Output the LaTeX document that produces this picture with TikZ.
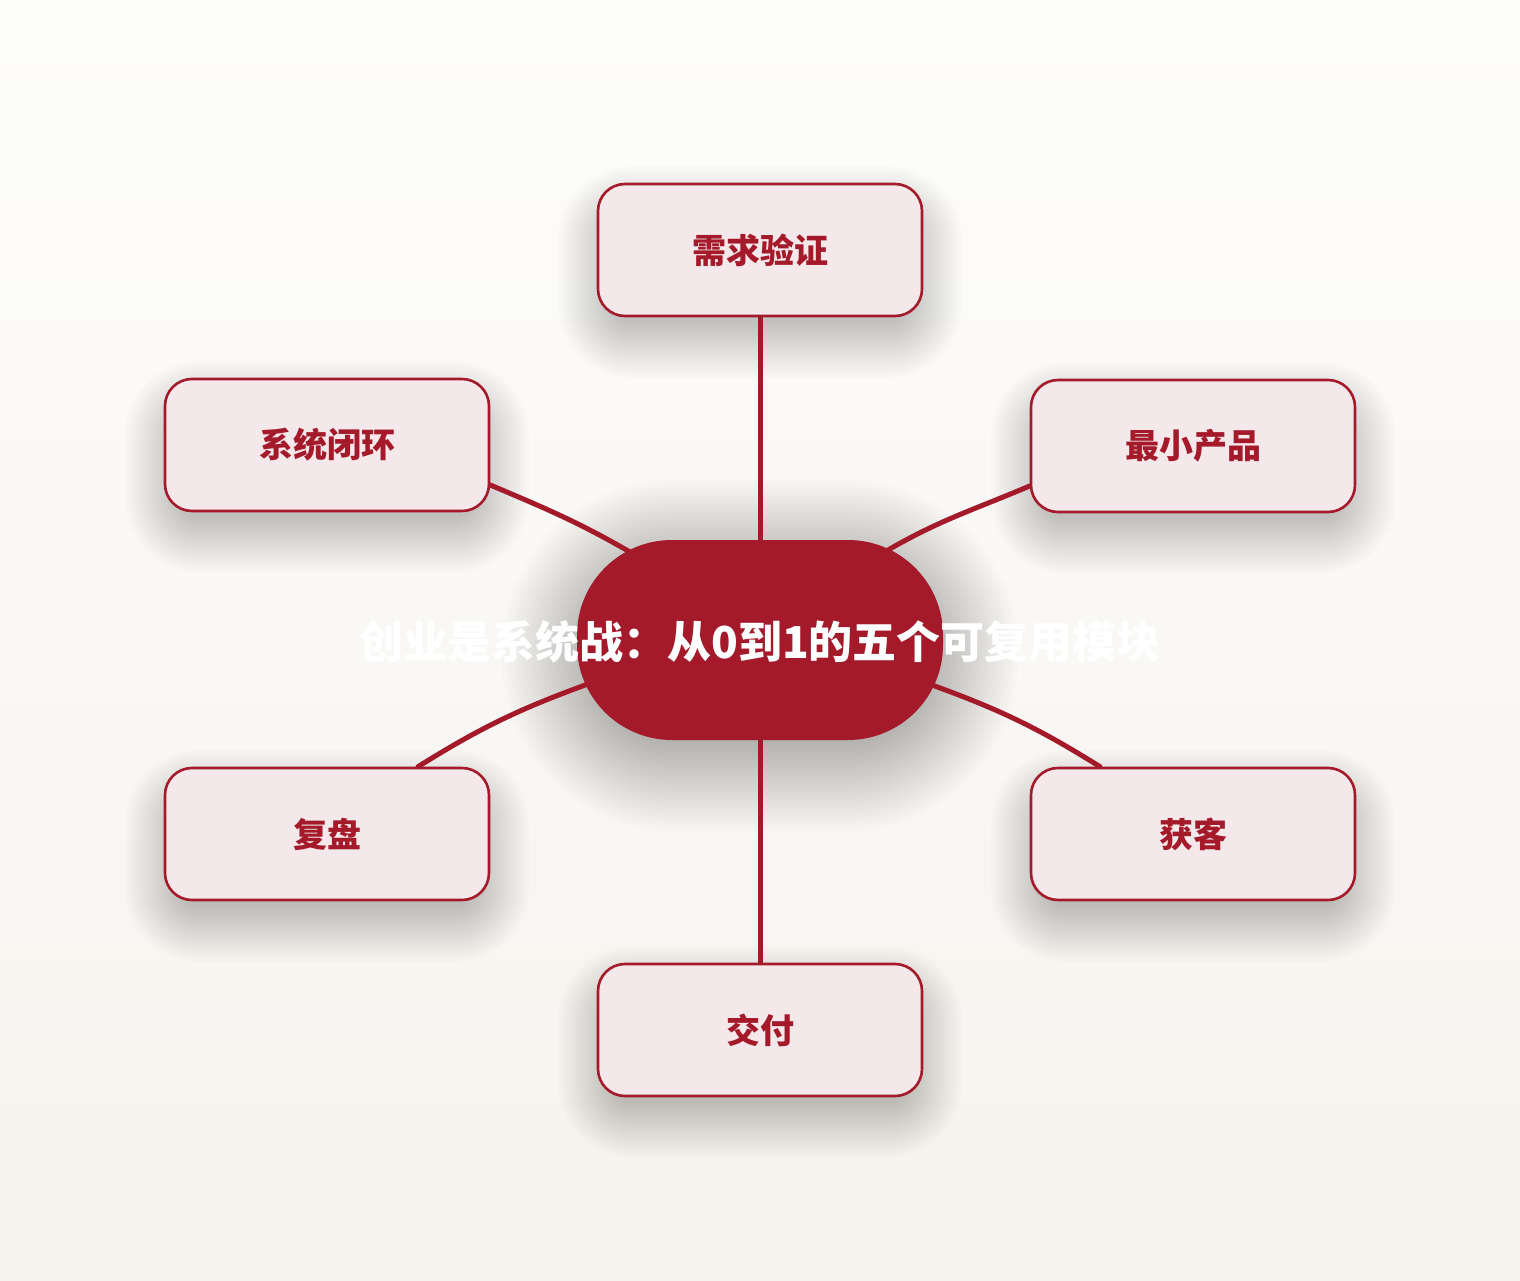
\documentclass[tikz,border=0pt]{standalone}
\usepackage{fontspec}
\setmainfont{Noto Sans CJK SC}
\usetikzlibrary{calc}
\definecolor{cred}{HTML}{A41A2A}
\definecolor{cfill}{HTML}{F4E8EB}
\definecolor{bgtop}{HTML}{FDFDFC}
\definecolor{bgbot}{HTML}{F6F3EE}
\pgfdeclarelayer{bglayer}
\pgfdeclarelayer{shadelayer}
\pgfdeclarelayer{edgelayer}
\pgfsetlayers{bglayer,shadelayer,edgelayer,main}
\tikzset{
  modbox/.style={draw=cred, line width=2.6pt, fill=cfill, rounded corners=27pt,
    minimum width=324pt, minimum height=132pt, inner sep=0pt,
    text=cred, font=\fontsize{34}{40}\selectfont\bfseries},
  hubnode/.style={fill=cred, draw=none, rounded corners=95pt,
    minimum width=366pt, minimum height=200pt, inner sep=0pt},
  softshade/.style={fill=black, fill opacity=#1},
  hubtext/.style={text=white, font=\fontsize{44}{50}\selectfont\bfseries, inner sep=0pt},
  link/.style={draw=cred, line width=5pt, line cap=round}
}
% #1 cx, #2 cy, #3 half width, #4 half height, #5 radius, #6 steps, #7 growth, #8 opacity
\newcommand{\dropshade}[8]{%
  \foreach \i in {0,...,#6} {
    \pgfmathsetmacro{\d}{\i*#7}
    \fill[softshade=#8, rounded corners={#5 pt+\d pt}]
      ({#1-#3-\d},{#2-#4-\d}) rectangle ({#1+#3+\d},{#2+#4+\d});
  }}
\begin{document}
\begin{tikzpicture}[x=1pt,y=-1pt]
\begin{pgfonlayer}{bglayer}
\foreach \k in {0,...,63} {
  \pgfmathsetmacro{\p}{100*\k/63}
  \fill[bgbot!\p!bgtop] (0,{\k*20}) rectangle (1520,{\k*20+21});
}
\end{pgfonlayer}
\useasboundingbox (0,0) rectangle (1520,1280);

\begin{pgfonlayer}{shadelayer}
\dropshade{760}{655}{170}{88}{85}{22}{4}{0.012}
\dropshade{760}{272}{148}{52}{20}{18}{3}{0.010}
\dropshade{1193}{468}{148}{52}{20}{18}{3}{0.010}
\dropshade{1193}{856}{148}{52}{20}{18}{3}{0.010}
\dropshade{760}{1052}{148}{52}{20}{18}{3}{0.010}
\dropshade{327}{856}{148}{52}{20}{18}{3}{0.010}
\dropshade{327}{467}{148}{52}{20}{18}{3}{0.010}
\end{pgfonlayer}

\node[hubnode] (c) at (760,640) {};
\node[hubtext] (ct) at (760,642) {创业是系统战：从0到1的五个可复用模块};

\node[modbox] (t)  at (760,250)  {需求验证};
\node[modbox] (tr) at (1193,446) {最小产品};
\node[modbox] (br) at (1193,834) {获客};
\node[modbox] (b)  at (760,1030) {交付};
\node[modbox] (bl) at (327,834)  {复盘};
\node[modbox] (tl) at (327,445)  {系统闭环};

\begin{pgfonlayer}{edgelayer}
\draw[link] (t.south) -- (c.center);
\draw[link] (b.north) -- (c.center);
\draw[link] ($(tl.east)+(0,40)$) to[out=-23,in=150] ($(c.center)+(-130,-88)$) -- (c.center);
\draw[link] ($(tr.west)+(0,40)$) to[out=203,in=30] ($(c.center)+(128,-90)$) -- (c.center);
\draw[link] ($(bl.north)+(91,0)$) to[out=32,in=-160] ($(c.center)+(-172,44)$) -- (c.center);
\draw[link] ($(br.north)+(-93,0)$) to[out=148,in=-20] ($(c.center)+(172,45)$) -- (c.center);
\end{pgfonlayer}
\end{tikzpicture}
\end{document}
